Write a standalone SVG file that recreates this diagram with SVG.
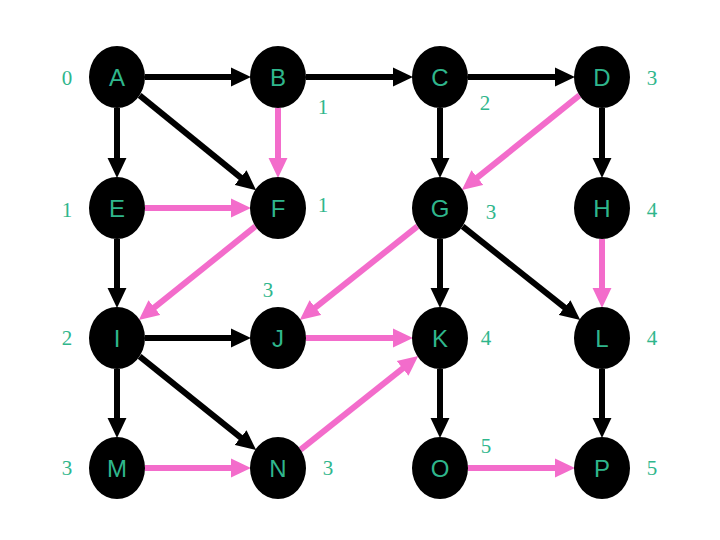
<svg xmlns="http://www.w3.org/2000/svg" width="720" height="540" viewBox="0 0 720 540">
<style>
.n ellipse{fill:#000}
.n text{fill:#2fb68c;font-family:"Liberation Sans",Arial,sans-serif;font-size:24px;text-anchor:middle;dominant-baseline:central}
.d{fill:#2fb68c;font-family:"Liberation Serif","Times New Roman",serif;font-size:21px;text-anchor:middle;dominant-baseline:central}
.k{stroke:#000;stroke-width:6;fill:none;marker-end:url(#ak)}
.p{stroke:#f36ccb;stroke-width:6;fill:none;marker-end:url(#ap)}
</style>
<defs>
<marker id="ak" markerUnits="userSpaceOnUse" markerWidth="20" markerHeight="20" viewBox="0 0 19 18" refX="1" refY="9" orient="auto"><path d="M0,0 L19,9 L0,18 z" fill="#000"/></marker>
<marker id="ap" markerUnits="userSpaceOnUse" markerWidth="20" markerHeight="20" viewBox="0 0 19 18" refX="1" refY="9" orient="auto"><path d="M0,0 L19,9 L0,18 z" fill="#f36ccb"/></marker>
</defs>
<rect width="720" height="540" fill="#fff"/>
<g id="connectors">
<line class="k" x1="145" y1="77" x2="232" y2="77"/>
<line class="k" x1="306" y1="77" x2="394" y2="77"/>
<line class="k" x1="468" y1="77" x2="556" y2="77"/>
<line class="p" x1="145" y1="208" x2="232" y2="208"/>
<line class="k" x1="145" y1="338" x2="232" y2="338"/>
<line class="p" x1="306" y1="338" x2="394" y2="338"/>
<line class="p" x1="145" y1="468" x2="232" y2="468"/>
<line class="p" x1="468" y1="468" x2="556" y2="468"/>
<line class="k" x1="117" y1="108" x2="117" y2="159"/>
<line class="p" x1="278" y1="108" x2="278" y2="159"/>
<line class="k" x1="440" y1="108" x2="440" y2="159"/>
<line class="k" x1="602" y1="108" x2="602" y2="159"/>
<line class="k" x1="117" y1="239" x2="117" y2="289"/>
<line class="k" x1="440" y1="239" x2="440" y2="289"/>
<line class="p" x1="602" y1="239" x2="602" y2="289"/>
<line class="k" x1="117" y1="369" x2="117" y2="419"/>
<line class="k" x1="440" y1="369" x2="440" y2="419"/>
<line class="k" x1="602" y1="369" x2="602" y2="419"/>
<line class="k" x1="139.6" y1="95.4" x2="241.4" y2="178.2"/>
<line class="k" x1="462.6" y1="226.4" x2="565.4" y2="308.2"/>
<line class="k" x1="139.6" y1="356.4" x2="241.4" y2="438.2"/>
<line class="p" x1="579.4" y1="95.4" x2="476.6" y2="178.2"/>
<line class="p" x1="255.4" y1="226.4" x2="153.6" y2="308.2"/>
<line class="p" x1="417.4" y1="226.4" x2="314.6" y2="308.2"/>
<line class="p" x1="300.6" y1="449.6" x2="403.4" y2="367.8"/>
</g>
<g id="A" class="n"><ellipse cx="117" cy="77" rx="28" ry="31"/><text x="117" y="77">A</text></g>
<g id="B" class="n"><ellipse cx="278" cy="77" rx="28" ry="31"/><text x="278" y="77">B</text></g>
<g id="C" class="n"><ellipse cx="440" cy="77" rx="28" ry="31"/><text x="440" y="77">C</text></g>
<g id="D" class="n"><ellipse cx="602" cy="77" rx="28" ry="31"/><text x="602" y="77">D</text></g>
<g id="E" class="n"><ellipse cx="117" cy="208" rx="28" ry="31"/><text x="117" y="208">E</text></g>
<g id="F" class="n"><ellipse cx="278" cy="208" rx="28" ry="31"/><text x="278" y="208">F</text></g>
<g id="G" class="n"><ellipse cx="440" cy="208" rx="28" ry="31"/><text x="440" y="208">G</text></g>
<g id="H" class="n"><ellipse cx="602" cy="208" rx="28" ry="31"/><text x="602" y="208">H</text></g>
<g id="I" class="n"><ellipse cx="117" cy="338" rx="28" ry="31"/><text x="117" y="338">I</text></g>
<g id="J" class="n"><ellipse cx="278" cy="338" rx="28" ry="31"/><text x="278" y="338">J</text></g>
<g id="K" class="n"><ellipse cx="440" cy="338" rx="28" ry="31"/><text x="440" y="338">K</text></g>
<g id="L" class="n"><ellipse cx="602" cy="338" rx="28" ry="31"/><text x="602" y="338">L</text></g>
<g id="M" class="n"><ellipse cx="117" cy="468" rx="28" ry="31"/><text x="117" y="468">M</text></g>
<g id="N" class="n"><ellipse cx="278" cy="468" rx="28" ry="31"/><text x="278" y="468">N</text></g>
<g id="O" class="n"><ellipse cx="440" cy="468" rx="28" ry="31"/><text x="440" y="468">O</text></g>
<g id="P" class="n"><ellipse cx="602" cy="468" rx="28" ry="31"/><text x="602" y="468">P</text></g>
<g id="labels">
<text class="d" x="67" y="78">0</text>
<text class="d" x="67" y="210">1</text>
<text class="d" x="67" y="338">2</text>
<text class="d" x="67" y="468">3</text>
<text class="d" x="323" y="107">1</text>
<text class="d" x="485" y="103">2</text>
<text class="d" x="652" y="78">3</text>
<text class="d" x="323" y="205">1</text>
<text class="d" x="491" y="212">3</text>
<text class="d" x="652" y="210">4</text>
<text class="d" x="268" y="290">3</text>
<text class="d" x="486" y="338">4</text>
<text class="d" x="652" y="338">4</text>
<text class="d" x="486" y="446">5</text>
<text class="d" x="652" y="468">5</text>
<text class="d" x="328" y="468">3</text>
</g>
</svg>
